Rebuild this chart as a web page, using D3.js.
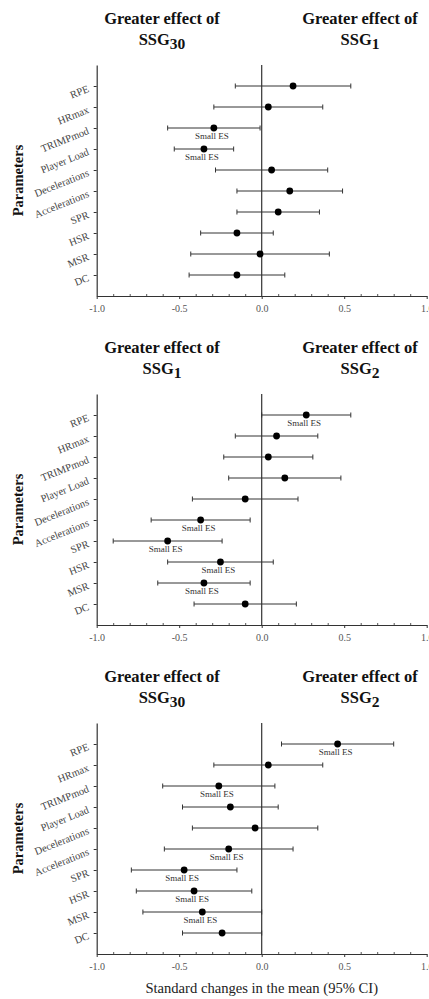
<!DOCTYPE html>
<html>
<head>
<meta charset="utf-8">
<script src="https://cdn.jsdelivr.net/npm/d3@7"></script>
<style>
  body { margin: 0; background: #fff; }
  svg { display: block; font-family: "Liberation Serif", "Times New Roman", serif; }
</style>
</head>
<body>
<div id="chart"></div>
<script>
// parameters (top to bottom)
const params = ["RPE", "HRmax", "TRIMPmod", "Player Load", "Decelerations",
                "Accelerations", "SPR", "HSR", "MSR", "DC"];
const xTicks = [-1.0, -0.5, 0.0, 0.5, 1.0];
const minorTicks = [-0.9, -0.8, -0.7, -0.6, -0.4, -0.3, -0.2, -0.1,
                    0.1, 0.2, 0.3, 0.4, 0.6, 0.7, 0.8, 0.9];

// subscripts of the groups in each title (left / right)
const leftGroups = ["30", "1", "30"];
const rightGroups = ["1", "2", "2"];

// SSG30 vs SSG1
const mean30v1  = [0.19, 0.04, -0.29, -0.35, 0.06, 0.17, 0.10, -0.15, -0.01, -0.15];
const lower30v1 = [-0.16, -0.29, -0.57, -0.53, -0.28, -0.15, -0.15, -0.37, -0.43, -0.44];
const upper30v1 = [0.54, 0.37, -0.01, -0.17, 0.40, 0.49, 0.35, 0.07, 0.41, 0.14];
const small30v1 = [0, 0, 1, 1, 0, 0, 0, 0, 0, 0];

// SSG1 vs SSG2
const mean1v2  = [0.27, 0.09, 0.04, 0.14, -0.10, -0.37, -0.57, -0.25, -0.35, -0.10];
const lower1v2 = [0.00, -0.16, -0.23, -0.20, -0.42, -0.67, -0.90, -0.57, -0.63, -0.41];
const upper1v2 = [0.54, 0.34, 0.31, 0.48, 0.22, -0.07, -0.24, 0.07, -0.07, 0.21];
const small1v2 = [1, 0, 0, 0, 0, 1, 1, 1, 1, 0];

// SSG30 vs SSG2
const mean30v2  = [0.46, 0.04, -0.26, -0.19, -0.04, -0.20, -0.47, -0.41, -0.36, -0.24];
const lower30v2 = [0.12, -0.29, -0.60, -0.48, -0.42, -0.59, -0.79, -0.76, -0.72, -0.48];
const upper30v2 = [0.80, 0.37, 0.08, 0.10, 0.34, 0.19, -0.15, -0.06, 0.00, 0.00];
const small30v2 = [1, 0, 1, 0, 0, 1, 1, 1, 1, 0];

const width = 429;
const height = 999;
const panelTops = [65, 394, 723];
const panelH = 231;

const panels = [
    { mean: mean30v1, lower: lower30v1, upper: upper30v1, small: small30v1 },
    { mean: mean1v2,  lower: lower1v2,  upper: upper1v2,  small: small1v2 },
    { mean: mean30v2, lower: lower30v2, upper: upper30v2, small: small30v2 }
];

const svg = d3.select("#chart")
    .append("svg")
    .attr("width", width)
    .attr("height", height);

const x = d3.scaleLinear()
    .domain([-1, 1])
    .range([96.7, 426.7]);

panels.forEach((p, k) => {
    const top = panelTops[k];
    const bottom = top + panelH;

    const y = d3.scalePoint()
        .domain(params)
        .range([top, bottom])
        .padding(1);

    const g = svg.append("g");

    // titles
    const addTitle = (cx, sub) => {
        const t = g.append("text")
            .attr("text-anchor", "middle")
            .attr("font-weight", "bold")
            .attr("font-size", 16.5)
            .attr("fill", "#111");
        t.append("tspan").attr("x", cx).attr("y", top - 41).text("Greater effect of");
        t.append("tspan").attr("x", cx).attr("y", top - 20.5).text("SSG");
        t.append("tspan").attr("dy", 4.5).attr("font-size", 15.5).text(sub);
    };
    addTitle(162, leftGroups[k]);
    addTitle(360, rightGroups[k]);

    // "Parameters"
    g.append("text")
        .attr("transform", `translate(23,${(top + bottom) / 2}) rotate(-90)`)
        .attr("text-anchor", "middle")
        .attr("font-weight", "bold")
        .attr("font-size", 14.5)
        .attr("fill", "#111")
        .text("Parameters");

    // x axis, minor ticks
    g.append("g")
        .attr("transform", `translate(0,${bottom})`)
        .call(d3.axisBottom(x).tickValues(minorTicks).tickSize(-2).tickSizeOuter(0).tickFormat(""))
        .call(a => a.select(".domain").remove())
        .call(a => a.selectAll("line").attr("stroke", "#555"));

    // x axis, major ticks
    g.append("g")
        .attr("transform", `translate(0,${bottom})`)
        .call(d3.axisBottom(x).tickValues(xTicks).tickSize(3).tickSizeOuter(0)
            .tickFormat(d => d.toFixed(1)))
        .call(a => a.select(".domain").attr("stroke", "#333").attr("stroke-width", 1.2))
        .call(a => a.selectAll("line").attr("stroke", "#333"))
        .call(a => a.selectAll("text")
            .attr("font-family", "Liberation Serif, serif")
            .attr("font-size", 10)
            .attr("fill", "#555")
            .attr("y", 9));

    // y axis
    g.append("g")
        .attr("transform", `translate(${x(-1)},0)`)
        .call(d3.axisLeft(y).tickSize(3).tickSizeOuter(0))
        .call(a => a.select(".domain").attr("stroke", "#333").attr("stroke-width", 1.2))
        .call(a => a.selectAll("line").attr("stroke", "#333"))
        .call(a => a.selectAll("text")
            .attr("x", null)
            .attr("dy", null)
            .attr("transform", "translate(-7,5) rotate(-22)")
            .attr("font-family", "Liberation Serif, serif")
            .attr("font-size", 10.5)
            .attr("fill", "#444"));

    // zero line
    g.append("line")
        .attr("x1", x(0)).attr("x2", x(0))
        .attr("y1", top).attr("y2", bottom)
        .attr("stroke", "#333")
        .attr("stroke-width", 1.2);

    const rows = params.map((name, i) => ({
        name, mean: p.mean[i], lo: p.lower[i], hi: p.upper[i], small: p.small[i]
    }));

    const r = g.selectAll(".row")
        .data(rows)
        .enter()
        .append("g")
        .attr("class", "row");

    r.append("line")
        .attr("x1", d => x(d.lo)).attr("x2", d => x(d.hi))
        .attr("y1", d => y(d.name)).attr("y2", d => y(d.name))
        .attr("stroke", "#333");

    r.append("line")
        .attr("x1", d => x(d.lo)).attr("x2", d => x(d.lo))
        .attr("y1", d => y(d.name) - 2.5).attr("y2", d => y(d.name) + 2.5)
        .attr("stroke", "#333");

    r.append("line")
        .attr("x1", d => x(d.hi)).attr("x2", d => x(d.hi))
        .attr("y1", d => y(d.name) - 2.5).attr("y2", d => y(d.name) + 2.5)
        .attr("stroke", "#333");

    r.append("circle")
        .attr("cx", d => x(d.mean))
        .attr("cy", d => y(d.name))
        .attr("r", 3.4)
        .attr("fill", "#000");

    r.filter(d => d.small)
        .append("text")
        .attr("x", d => x(d.mean) - 2)
        .attr("y", d => y(d.name) + 11)
        .attr("text-anchor", "middle")
        .attr("font-size", 9)
        .attr("fill", "#333")
        .text("Small ES");
});

// x axis title
svg.append("text")
    .attr("x", x(0))
    .attr("y", 993)
    .attr("text-anchor", "middle")
    .attr("font-size", 14.6)
    .attr("fill", "#222")
    .text("Standard changes in the mean (95% CI)");
</script>
</body>
</html>
